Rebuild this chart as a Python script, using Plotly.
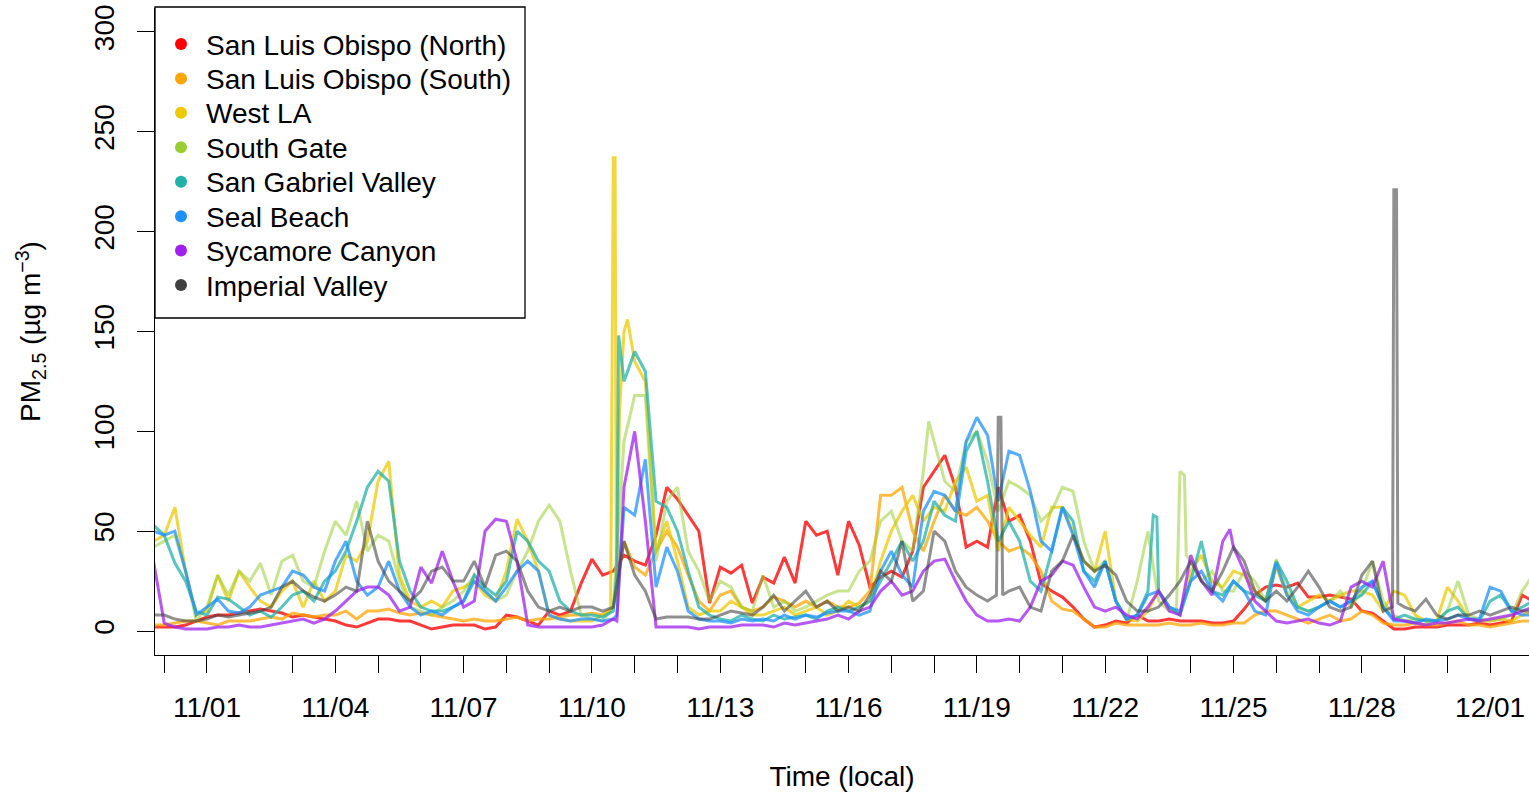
import pandas as pd
import plotly.graph_objects as go

# ---------------- data (6-hourly readings, first = 2018-10-30 18:00) ----------------
grid_start = "2018-10-30 18:00"

slo_north = [2,
    2, 2, 3, 5,   7, 8, 8, 9,   10, 11, 10, 9,   7, 8, 7, 6,   5, 3, 2, 4,   6, 6, 5, 5,
    3, 1, 2, 3,   3, 3, 1, 2,   8, 7, 5, 3,   10, 8, 10, 24,   36, 28, 30, 38,   35, 33, 48, 72,
    66, 58, 50, 14,   32, 29, 33, 14,   27, 24, 37, 24,   55, 48, 50, 28,   55, 43, 22, 27,
    30, 27, 40, 72,   80, 88, 72, 42,   45, 42, 72, 55,   58, 45, 24, 20,   17, 12, 6, 2,
    3, 5, 4, 8,   5, 5, 6, 5,   5, 5, 4, 4,   5, 11, 18, 22,   23, 22, 24, 17,   17, 18, 17, 16,
    10, 9, 5, 1,   1, 2, 2, 2,   3, 3, 3, 4,   3, 4, 5, 18,
    15]

slo_south = [3,
    3, 4, 5, 5,   4, 3, 5, 5,   5, 6, 7, 6,   9, 8, 7, 8,   8, 10, 6, 10,   10, 11, 9, 8,
    9, 8, 7, 6,   5, 6, 5, 5,   6, 7, 5, 6,   6, 7, 8, 8,   9, 8, 12, 45,   32, 28, 40, 50,
    42, 28, 15, 10,   18, 20, 12, 10,   12, 17, 15, 12,   15, 12, 15, 12,   12, 14, 20, 68,
    68, 72, 50, 40,   55, 68, 60, 58,   62, 55, 45, 40,   42, 38, 30, 15,   11, 10, 6, 2,
    2, 4, 3, 3,   3, 3, 4, 3,   3, 4, 3, 3,   4, 4, 8, 10,   10, 8, 6, 4,   6, 8, 5, 6,
    10, 8, 4, 3,   3, 4, 3, 3,   4, 5, 3, 3,   2, 3, 4, 5,
    5]

west_la = [45,
    48, 62, 30, 8,   10, 28, 15, 30,   22, 15, 12, 20,   25, 12, 25, 15,   20, 38, 35, 45,   75, 85, 28, 15,
    12, 15, 12, 20,   22, 25, 18, 15,   30, 56, 45, 30,   8, 6, 5, 5,   5, 8, 237, 150,   135, 125, 40, 55,
    35, 12, 8, 10,   10, 15, 12, 8,   8, 10, 12, 8,   10, 12, 8, 10,   15, 12, 15, 35,
    50, 60, 68, 55,   62, 60, 75, 82,   65, 68, 40, 62,   55, 48, 42, 62,   62, 50, 35, 30,
    50, 15, 6, 5,   10, 20, 12, 8,   30, 38, 25, 22,   30, 28, 20, 15,   32, 18, 12, 15,   18, 15, 18, 20,
    20, 18, 10, 20,   18, 8, 5, 5,   22, 15, 6, 5,   5, 6, 5, 8,
    10]

south_gate = [42,
    45, 48, 30, 5,   12, 28, 18, 30,   25, 34, 18, 35,   38, 25, 22, 40,   55, 48, 65, 40,   48, 45, 25, 12,
    10, 8, 12, 15,   20, 28, 20, 15,   18, 30, 40, 55,   63, 55, 30, 8,   6, 5, 12, 95,   118, 118, 35, 65,
    72, 40, 30, 15,   25, 22, 12, 10,   28, 12, 15, 10,   12, 15, 18, 20,   20, 30, 35, 55,
    60, 45, 40, 80,   95, 75, 70, 95,   100, 85, 60, 75,   72, 68, 55, 60,   72, 70, 45, 30,
    35, 15, 5, 25,   50, 15, 10, 80,   35, 25, 30, 20,   20, 30, 25, 15,   36, 20, 12, 10,   12, 15, 20, 12,
    20, 35, 15, 8,   5, 6, 5, 5,   10, 25, 8, 6,   5, 6, 8, 20,
    28]

san_gabriel = [53,
    48, 34, 25, 10,   8, 17, 16, 12,   8, 10, 7, 12,   18, 20, 15, 25,   30, 40, 55, 72,   80, 75, 35, 20,
    12, 10, 10, 12,   15, 28, 22, 18,   25, 50, 45, 35,   30, 15, 10, 8,   8, 7, 10, 125,   140, 130, 65, 62,
    50, 30, 12, 8,   6, 5, 8, 6,   5, 8, 6, 7,   8, 6, 10, 12,   10, 12, 15, 25,
    35, 45, 35, 45,   65, 58, 55, 90,   100, 75, 45, 55,   45, 25, 20, 40,   62, 55, 30, 25,
    35, 15, 6, 8,   20, 20, 12, 8,   25, 45, 20, 18,   25, 20, 18, 15,   35, 25, 12, 10,   12, 15, 12, 15,
    18, 25, 12, 6,   8, 6, 5, 5,   10, 12, 6, 5,   15, 18, 10, 12,
    15]

seal_beach = [50,
    48, 50, 30, 8,   12, 16, 10, 9,   12, 18, 20, 22,   30, 28, 22, 20,   35, 45, 25, 18,   22, 35, 20, 12,
    8, 10, 8, 12,   15, 25, 20, 15,   22, 30, 35, 30,   8, 6, 5, 6,   6, 5, 6, 62,   58, 86, 22, 42,
    30, 10, 6, 5,   5, 4, 6, 5,   6, 5, 8, 6,   8, 7, 9, 10,   10, 8, 10, 30,
    40, 28, 22, 60,   70, 68, 60, 95,   107, 98, 65, 90,   88, 70, 45, 40,   62, 48, 30, 22,
    35, 15, 6, 8,   18, 20, 12, 10,   25, 30, 20, 15,   25, 20, 10, 8,   34, 18, 10, 8,   12, 15, 12, 15,
    22, 25, 12, 5,   5, 4, 6, 5,   6, 8, 6, 6,   22, 20, 10, 8,
    8]

sycamore = [35,
    4, 2, 1, 1,   1, 2, 2, 3,   2, 2, 3, 4,   5, 6, 4, 6,   10, 15, 20, 22,   22, 18, 10, 12,
    32, 24, 40, 25,   12, 15, 50, 56,   55, 35, 3, 2,   2, 2, 2, 2,   2, 3, 6, 72,   100, 55, 2, 2,
    2, 2, 1, 2,   2, 2, 3, 3,   3, 2, 4, 3,   4, 5, 6, 8,   6, 10, 12, 20,
    25, 18, 20, 30,   35, 36, 25, 15,   8, 5, 5, 6,   5, 12, 25, 28,   35, 33, 22, 12,
    10, 12, 8, 6,   12, 20, 10, 8,   38, 25, 18, 45,   42, 30, 15, 10,   5, 4, 5, 6,   4, 3, 5, 22,
    25, 22, 35, 6,   5, 4, 3, 4,   4, 5, 6, 5,   6, 7, 8, 10,
    12]

imperial = [8,
    8, 6, 5, 5,   6, 8, 7, 8,   9, 10, 12, 22,   25, 20, 17, 15,   18, 22, 20, 55,   35, 25, 20, 15,
    20, 30, 32, 25,   25, 35, 22, 38,   40, 35, 20, 12,   10, 12, 10, 12,   12, 10, 12, 45,   28, 20, 6, 7,
    7, 7, 6, 6,   8, 10, 9, 8,   12, 18, 10, 15,   20, 12, 15, 10,   12, 10, 18, 30,
    25, 45, 15, 20,   50, 45, 30, 22,   18, 15, 107, 20,   22, 12, 10, 30,   35, 48, 35, 30,
    33, 28, 15, 10,   10, 12, 18, 25,   35, 25, 20, 30,   42, 35, 20, 15,   20, 15, 22, 30,   22, 12, 10, 12,
    28, 35, 10, 221,   12, 10, 16, 8,   6, 8, 8, 10,   8, 10, 12, 10,
    10]

# short-lived spikes read between the 6-hourly readings
west_la_extra = [("2018-11-10 10:30", 10), ("2018-11-10 13:00", 237), ("2018-11-10 13:45", 15),
                 ("2018-11-10 15:30", 110), ("2018-11-10 20:00", 156)]
south_gate_extra = [("2018-11-17 21:00", 105), ("2018-11-23 16:00", 10),
                    ("2018-11-23 20:30", 78), ("2018-11-23 21:30", 38)]
san_gabriel_extra = [("2018-11-10 14:00", 30), ("2018-11-10 15:00", 148),
                     ("2018-11-23 03:00", 58), ("2018-11-23 05:00", 57)]
seal_beach_extra = [("2018-11-10 14:00", 8)]
sycamore_extra = [("2018-11-10 14:00", 5), ("2018-11-24 22:00", 51)]
imperial_extra = [("2018-11-19 11:00", 18), ("2018-11-19 13:30", 107), ("2018-11-19 14:30", 18),
                  ("2018-11-28 17:15", 12), ("2018-11-28 19:30", 221), ("2018-11-28 20:15", 14)]

names = ["San Luis Obispo (North)", "San Luis Obispo (South)", "West LA", "South Gate",
         "San Gabriel Valley", "Seal Beach", "Sycamore Canyon", "Imperial Valley"]
series = [slo_north, slo_south, west_la, south_gate, san_gabriel, seal_beach, sycamore, imperial]
extras = [[], [], west_la_extra, south_gate_extra, san_gabriel_extra, seal_beach_extra,
          sycamore_extra, imperial_extra]
colors = [(255, 0, 0), (255, 165, 0), (238, 201, 0), (154, 205, 50),
          (32, 178, 170), (30, 144, 255), (160, 32, 240), (64, 64, 64)]
alphas = [0.78, 0.75, 0.75, 0.55, 0.75, 0.75, 0.75, 0.58]

tick_days = pd.date_range("2018-10-31", "2018-12-02", freq="D")
tick_text = [d.strftime("%m/%d") if (d - pd.Timestamp("2018-11-01")).days % 3 == 0 else ""
             for d in tick_days]

# ---------------- layout geometry (pixels) ----------------
W, H = 1529, 792
ML, MR, MT, MB = 155, 0, 8, 137
PW, PH = W - ML - MR, H - MT - MB


def px(x):
    return (x - ML) / PW


def py(y):
    return (H - MB - y) / PH


FONT = "Liberation Sans, Arial, sans-serif"
FS = 28
fig = go.Figure()

for name, vals, ext, (r, g, b), a in zip(names, series, extras, colors, alphas):
    s = pd.Series(vals, index=pd.date_range(grid_start, periods=len(vals), freq="6h"))
    if ext:
        e = pd.Series([v for _, v in ext], index=pd.to_datetime([t for t, _ in ext]))
        s = pd.concat([s, e]).sort_index()
    fig.add_trace(go.Scatter(x=s.index, y=s.values, mode="lines", name=name, showlegend=False,
                             line=dict(color=f"rgba({r},{g},{b},{a})", width=3),
                             hoverinfo="skip"))

# legend drawn by hand (box, dots, labels) to match the reference spacing
shapes = [dict(type="rect", xref="paper", yref="paper", x0=px(155), x1=px(525), y0=py(318), y1=py(7),
               line=dict(color="black", width=1.3), fillcolor="white", layer="above")]
annotations = []
row0, step = 44, 34.43
for i, (name, (r, g, b)) in enumerate(zip(names, colors)):
    yc = row0 + i * step
    shapes.append(dict(type="circle", xref="paper", yref="paper",
                       x0=px(181 - 6), x1=px(181 + 6), y0=py(yc + 6), y1=py(yc - 6),
                       fillcolor=f"rgb({r},{g},{b})", line=dict(width=0), layer="above"))
    annotations.append(dict(xref="paper", yref="paper", x=px(204), y=py(yc + 1), text=name,
                            showarrow=False, xanchor="left", yanchor="middle",
                            font=dict(family=FONT, size=FS, color="black")))

fig.update_layout(
    width=W, height=H,
    margin=dict(l=ML, r=MR, t=MT, b=MB, autoexpand=False),
    paper_bgcolor="white", plot_bgcolor="white",
    font=dict(family=FONT, size=FS, color="black"),
    showlegend=False,
    shapes=shapes, annotations=annotations,
)

fig.update_xaxes(
    range=["2018-10-30 18:50", "2018-12-01 21:50"],
    tickmode="array", tickvals=tick_days, ticktext=tick_text,
    ticks="outside", ticklen=17, tickwidth=1, tickcolor="black",
    showline=True, linecolor="black", linewidth=1.3,
    showgrid=False, zeroline=False, automargin=False,
    tickfont=dict(family=FONT, size=FS),
    ticklabelstandoff=10,
    title=dict(text="Time (local)", font=dict(family=FONT, size=FS), standoff=45),
)
fig.update_yaxes(
    range=[-12, 312],
    tickmode="array", tickvals=[0, 50, 100, 150, 200, 250, 300],
    ticks="outside", ticklen=17, tickwidth=1, tickcolor="black",
    tickangle=-90,
    showline=True, linecolor="black", linewidth=1.3,
    showgrid=False, zeroline=False, automargin=False,
    tickfont=dict(family=FONT, size=FS),
    ticklabelstandoff=12,
    title=dict(text="PM<sub>2.5</sub> (µg m<sup>−3</sup>)", font=dict(family=FONT, size=FS), standoff=39),
)

fig.write_html("out.html", config={"displayModeBar": False},
               post_script="document.body.style.margin='0px';")
